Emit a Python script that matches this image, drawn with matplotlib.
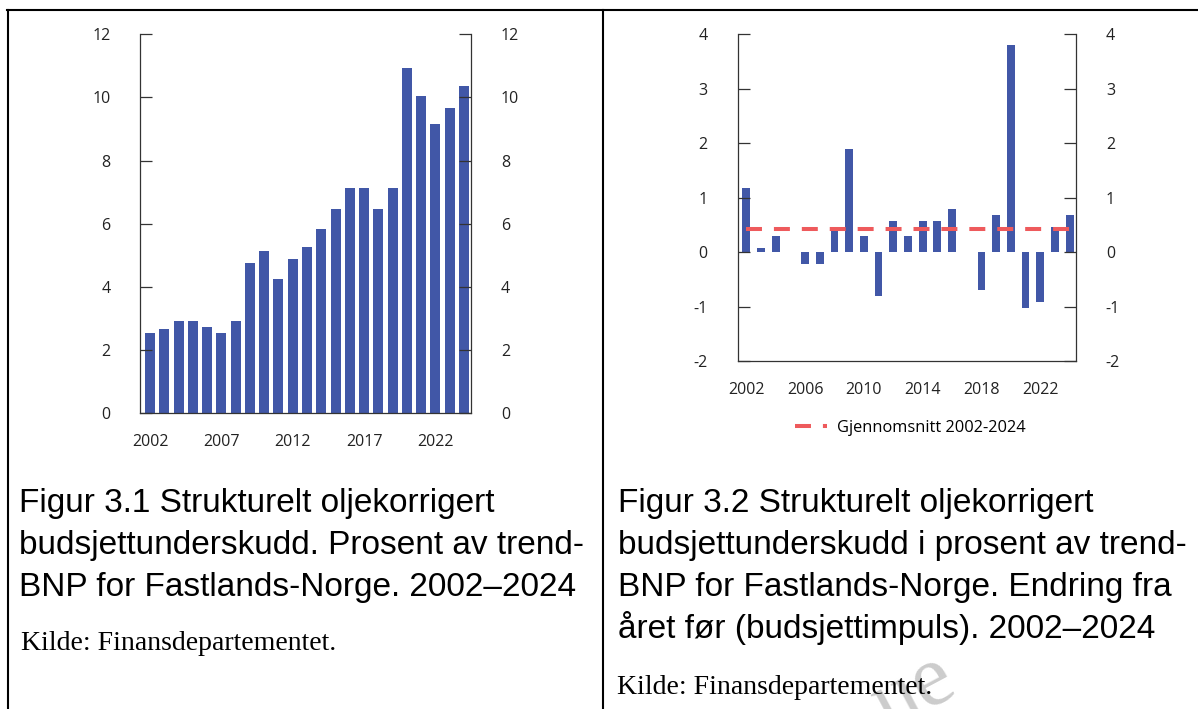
import numpy as np
import matplotlib
matplotlib.use("Agg")
import matplotlib.pyplot as plt
from matplotlib.lines import Line2D
from matplotlib.ticker import FuncFormatter

# data
years = np.arange(2002, 2025)
underskudd = [2.55, 2.65, 2.92, 2.92, 2.73, 2.55, 2.92, 4.75, 5.13, 4.25, 4.88, 5.26,
              5.83, 6.46, 7.13, 7.13, 6.46, 7.13, 10.93, 10.05, 9.16, 9.67, 10.36]
impuls = [1.17, 0.07, 0.29, 0.0, -0.22, -0.22, 0.40, 1.90, 0.29, -0.81, 0.58, 0.29,
          0.58, 0.58, 0.80, 0.0, -0.70, 0.69, 3.81, -1.03, -0.92, 0.47, 0.69]
snitt = 0.42
snitt_label = "Gjennomsnitt 2002-2024"

left_ticks_x = [2002, 2007, 2012, 2017, 2022]
right_ticks_x = [2002, 2006, 2010, 2014, 2018, 2022]

bar_color = "#4157a7"
avg_color = "#ee5a5c"
spine_color = "#333333"

W, H = 1198, 709
plt.rcParams["font.family"] = ["Open Sans", "DejaVu Sans"]
plt.rcParams["lines.scale_dashes"] = False
fig = plt.figure(figsize=(W / 100, H / 100), dpi=100)


def px(x0, y0, x1, y1):
    # pixel box -> figure fraction [left, bottom, width, height]
    return [x0 / W, 1 - y1 / H, (x1 - x0) / W, (y1 - y0) / H]


def style_axes(ax, ticks):
    ax.spines["top"].set_visible(False)
    for s in ["left", "right", "bottom"]:
        ax.spines[s].set_color(spine_color)
        ax.spines[s].set_linewidth(0.9)
    ax.set_yticks(ticks)
    ax.tick_params(axis="y", direction="in", length=8.6, width=0.9, color=spine_color,
                   labelsize=11.5, labelcolor="#222222", pad=21.5,
                   left=True, right=True, labelleft=True, labelright=True)
    ax.tick_params(axis="x", length=0, labelsize=11.5, labelcolor="#222222", pad=15)
    ax.yaxis.set_major_formatter(FuncFormatter(lambda v, p: "%d" % v))


# left chart
ax1 = fig.add_axes(px(140.3, 34.3, 471, 413))
ax1.bar(years, underskudd, width=0.7, color=bar_color)
ax1.set_xlim(2001.32, 2024.49)
ax1.set_ylim(0, 12)
style_axes(ax1, range(0, 13, 2))
ax1.set_xticks(left_ticks_x)

# right chart
ax2 = fig.add_axes(px(737.7, 34.3, 1076, 361))
ax2.bar(years, impuls, width=0.53, color=bar_color)
ax2.plot([years[0], years[-1]], [snitt, snitt], color=avg_color, lw=2.9,
         dashes=(11.5, 8.6), solid_capstyle="butt", dash_capstyle="butt", label=snitt_label)
ax2.set_xlim(2001.42, 2024.43)
ax2.set_ylim(-2, 4)
style_axes(ax2, range(-2, 5))
ax2.set_xticks(right_ticks_x)
ax2.legend(loc="center", bbox_to_anchor=(910 / W, 1 - 428 / H), bbox_transform=fig.transFigure,
           frameon=False, fontsize=11.8, handlelength=1.95, handletextpad=0.6)

# table borders
lw = 1.5
fig.add_artist(Line2D([7 / W, 1], [1 - 10 / H, 1 - 10 / H], color="black", lw=lw))
fig.add_artist(Line2D([8 / W, 8 / W], [0, 1 - 10 / H], color="black", lw=lw))
fig.add_artist(Line2D([603 / W, 603 / W], [0, 1 - 10 / H], color="black", lw=lw))

# captions
cap_kw = dict(family=["Liberation Sans", "DejaVu Sans"], fontsize=24, va="baseline", ha="left")
src_kw = dict(family=["Liberation Serif", "DejaVu Serif"], fontsize=20, va="baseline", ha="left")

left_caption = ["Figur 3.1 Strukturelt oljekorrigert",
                "budsjettunderskudd. Prosent av trend-",
                "BNP for Fastlands-Norge. 2002\u20132024"]
right_caption = ["Figur 3.2 Strukturelt oljekorrigert",
                 "budsjettunderskudd i prosent av trend-",
                 "BNP for Fastlands-Norge. Endring fra",
                 "\u00e5ret f\u00f8r (budsjettimpuls). 2002\u20132024"]
for i, line in enumerate(left_caption):
    fig.text(19 / W, 1 - (512 + 42 * i) / H, line, **cap_kw)
for i, line in enumerate(right_caption):
    fig.text(618 / W, 1 - (512 + 42 * i) / H, line, **cap_kw)
fig.text(21 / W, 1 - 650 / H, "Kilde: Finansdepartementet.", **src_kw)
fig.text(617 / W, 1 - 694 / H, "Kilde: Finansdepartementet.", **src_kw)

# faint watermark fragment
fig.text(915 / W, 1 - 728 / H, "ue", family=["Liberation Serif", "DejaVu Serif"], fontsize=62,
         color="#cccccc", rotation=28, ha="center", va="baseline", zorder=0)

fig.savefig("out.png", dpi=100)
